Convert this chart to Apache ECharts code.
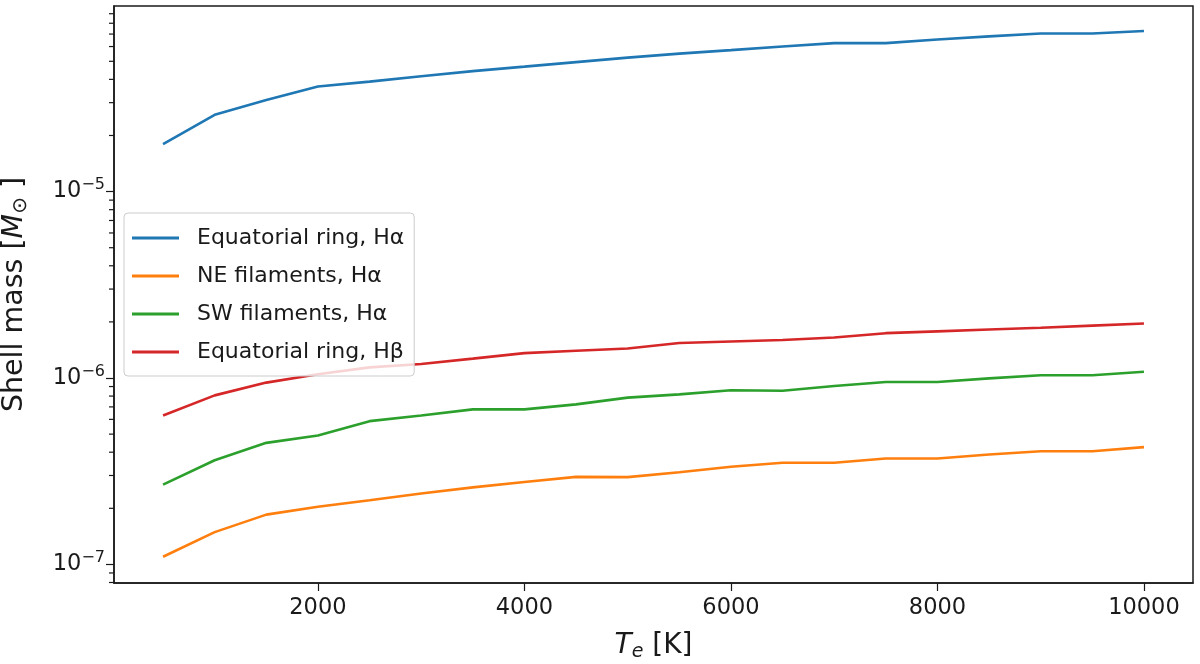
<!DOCTYPE html>
<html>
<head>
<meta charset="utf-8">
<script src="https://cdn.jsdelivr.net/npm/echarts@6/dist/echarts.min.js"></script>
<style>
  html, body { margin: 0; padding: 0; background: #fff; }
  #chart { width: 1200px; height: 664px; }
</style>
</head>
<body>
<div id="chart"></div>
<script>
// electron temperature, K
var temps = [500, 1000, 1500, 2000, 2500, 3000, 3500, 4000, 4500, 5000,
             5500, 6000, 6500, 7000, 7500, 8000, 8500, 9000, 9500, 10000];

// shell mass in solar masses
var ringHa = [1.80e-5, 2.58e-5, 3.10e-5, 3.66e-5, 3.89e-5, 4.16e-5, 4.43e-5, 4.68e-5, 4.95e-5, 5.23e-5,
              5.50e-5, 5.74e-5, 6.00e-5, 6.26e-5, 6.26e-5, 6.55e-5, 6.80e-5, 7.05e-5, 7.05e-5, 7.27e-5];
var neHa = [1.10e-7, 1.49e-7, 1.85e-7, 2.04e-7, 2.21e-7, 2.40e-7, 2.59e-7, 2.77e-7, 2.95e-7, 2.94e-7,
            3.12e-7, 3.34e-7, 3.51e-7, 3.51e-7, 3.70e-7, 3.70e-7, 3.89e-7, 4.05e-7, 4.05e-7, 4.26e-7];
var swHa = [2.68e-7, 3.62e-7, 4.49e-7, 4.92e-7, 5.87e-7, 6.30e-7, 6.79e-7, 6.79e-7, 7.22e-7, 7.85e-7,
            8.17e-7, 8.59e-7, 8.55e-7, 9.06e-7, 9.52e-7, 9.52e-7, 9.96e-7, 1.034e-6, 1.034e-6, 1.08e-6];
var ringHb = [6.30e-7, 8.07e-7, 9.45e-7, 1.047e-6, 1.14e-6, 1.19e-6, 1.27e-6, 1.36e-6, 1.40e-6, 1.44e-6,
              1.54e-6, 1.57e-6, 1.60e-6, 1.65e-6, 1.74e-6, 1.78e-6, 1.82e-6, 1.86e-6, 1.91e-6, 1.96e-6];

var seriesNames = ['Equatorial ring, H\u03b1', 'NE filaments, H\u03b1', 'SW filaments, H\u03b1', 'Equatorial ring, H\u03b2'];
var seriesColors = ['#1f77b4', '#ff7f0e', '#2ca02c', '#d62728'];

var xMin = 25, xMax = 10475;
var yMin = 7.95e-8, yMax = 9.9e-5;

// log minor tick positions (2..9 x 10^n) inside the y range
var minorTicks = [];
for (var e = -8; e <= -5; e++) {
  for (var m = 2; m <= 9; m++) {
    var v = m * Math.pow(10, e);
    if (v > yMin && v < yMax) minorTicks.push([xMin, v]);
  }
}

function pairs(ys) {
  return temps.map(function (t, i) { return [t, ys[i]]; });
}

var font = 'DejaVu Sans';
var ink = '#1a1a1a';

var lines = [ringHa, neHa, swHa, ringHb].map(function (ys, i) {
  return {
    name: seriesNames[i],
    type: 'line',
    data: pairs(ys),
    symbol: 'none',
    lineStyle: { color: seriesColors[i], width: 2.6 },
    itemStyle: { color: seriesColors[i] },
    animation: false
  };
});

lines.push({
  type: 'custom',
  name: 'minor',
  data: minorTicks,
  silent: true,
  animation: false,
  renderItem: function (params, api) {
    var p = api.coord([api.value(0), api.value(1)]);
    return {
      type: 'line',
      shape: { x1: p[0] - 5, y1: p[1], x2: p[0], y2: p[1] },
      style: { stroke: ink, lineWidth: 1.2 }
    };
  }
});

var option = {
  backgroundColor: '#fff',
  animation: false,
  grid: {
    left: 114, right: 7, top: 6, bottom: 81,
    containLabel: false,
    outerBoundsMode: 'none',
    show: true, borderColor: ink, borderWidth: 1.5, backgroundColor: 'transparent'
  },
  legend: {
    data: seriesNames,
    orient: 'vertical',
    left: 124, top: 213,
    icon: 'rect',
    itemWidth: 47, itemHeight: 3, itemGap: 14,
    padding: [13, 10, 12, 8],
    backgroundColor: 'rgba(255,255,255,0.8)',
    borderColor: '#cccccc', borderWidth: 1, borderRadius: 4,
    textStyle: { fontFamily: font, fontSize: 22, color: ink, lineHeight: 24, padding: [0, 0, 0, 13] }
  },
  xAxis: {
    type: 'value',
    min: xMin, max: xMax,
    name: '{i|T}{sub|e} [K]',
    nameLocation: 'middle',
    nameGap: 47,
    nameTextStyle: {
      fontFamily: font, fontSize: 28, color: ink,
      rich: {
        i: { fontFamily: font, fontSize: 28, fontStyle: 'italic', color: ink },
        sub: { fontFamily: font, fontSize: 19, fontStyle: 'italic', color: ink, padding: [13, 0, 0, 0] }
      }
    },
    splitLine: { show: false },
    axisLine: { lineStyle: { color: ink, width: 1.5 } },
    axisTick: { length: 8, lineStyle: { color: ink, width: 1.2 } },
    axisLabel: {
      fontFamily: font, fontSize: 22.5, color: ink, margin: 14,
      showMinLabel: false, showMaxLabel: false,
      formatter: function (v) { return String(v); }
    }
  },
  yAxis: {
    type: 'log',
    logBase: 10,
    min: yMin, max: yMax,
    name: 'Shell mass [{i|M}{sub|\u2299} ]',
    nameLocation: 'middle',
    nameRotate: 90,
    nameGap: 83,
    nameTextStyle: {
      fontFamily: font, fontSize: 28.5, color: ink,
      rich: {
        i: { fontFamily: font, fontSize: 28.5, fontStyle: 'italic', color: ink },
        sub: { fontFamily: font, fontSize: 20, color: ink, padding: [13, 0, 0, 0] }
      }
    },
    splitLine: { show: false },
    axisLine: { show: true, lineStyle: { color: ink, width: 1.5 } },
    axisTick: { length: 8, lineStyle: { color: ink, width: 1.2 } },
    axisLabel: {
      fontFamily: font, fontSize: 22.5, color: ink, margin: 9,
      showMinLabel: false, showMaxLabel: false,
      formatter: function (v) {
        var lg = Math.log(v) / Math.LN10;
        var e = Math.round(lg);
        if (Math.abs(lg - e) > 1e-6) return '';
        return '10{s|\u2212' + (-e) + '}';
      },
      rich: {
        s: { fontFamily: font, fontSize: 16, color: ink, padding: [0, 0, 13, 0] }
      }
    }
  },
  series: lines
};

var mychart = echarts.init(document.getElementById('chart'), null, { renderer: 'canvas' });
mychart.setOption(option);
</script>
</body>
</html>
